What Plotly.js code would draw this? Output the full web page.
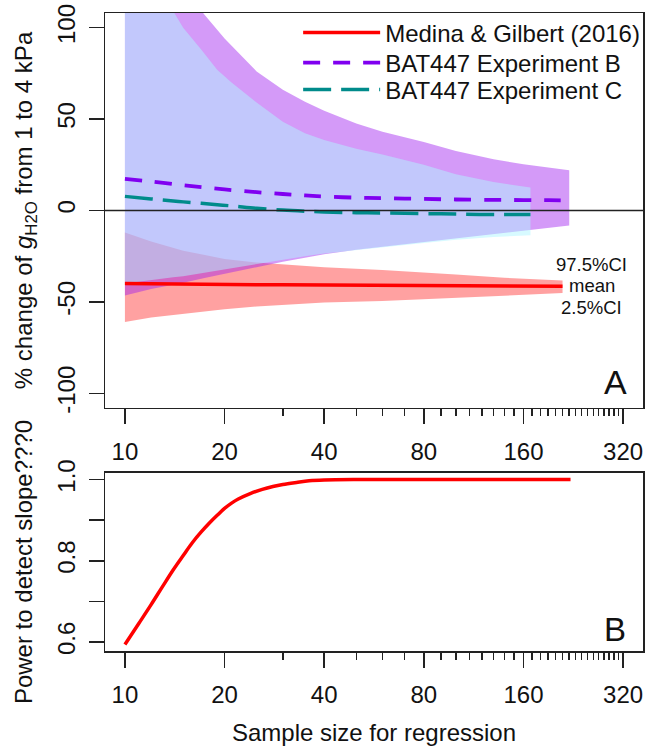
<!DOCTYPE html>
<html>
<head>
<meta charset="utf-8">
<script src="https://cdn.plot.ly/plotly-3.0.1.min.js"></script>
<style>html,body{margin:0;padding:0;background:#fff;}</style>
</head>
<body>
<div id="chart" style="width:651px;height:747px;"></div>
<script>
// ---- Data ----
// Medina & Gilbert (2016)
const medinaN     = [10, 12, 15, 20, 25, 30, 40, 60, 80, 100, 140, 180, 210];
const medinaMean  = [-40, -40.2, -40.3, -40.5, -40.6, -40.7, -40.8, -41, -41.1, -41.2, -41.3, -41.4, -41.4];
const medinaUpper = [-12, -17, -22, -26.5, -28.5, -29.5, -31, -32.5, -33.8, -35, -36.8, -37.8, -38.3];
const medinaLower = [-61, -58.5, -56.3, -54, -52.5, -51.5, -50.3, -49.5, -48.5, -47.5, -46.4, -45.7, -45.2];

// BAT447 Experiment B
const expBN     = [10, 12, 15, 17.4, 20, 25, 30, 35, 40, 50, 60, 80, 100, 130, 160, 190, 220];
const expBMean  = [17.3, 15.8, 13.8, 12.6, 11.5, 10, 9, 8.2, 7.6, 7, 6.7, 6.3, 6, 5.8, 5.7, 5.6, 5.5];
const expBUpper = [175, 150, 122, 107, 94, 76, 66, 59.5, 54.5, 47.5, 43, 37.5, 32.5, 28, 25.3, 23.5, 22];
const expBLower = [-46.5, -43, -39.5, -37, -34.5, -31, -28, -25.8, -24, -21.5, -19.5, -17, -15, -12.8, -11, -9.5, -8.2];

// BAT447 Experiment C
const expCN     = [10, 12, 14, 15, 17, 19, 21, 25, 30, 35, 40, 50, 60, 80, 100, 130, 168];
const expCMean  = [7.7, 6.3, 5.2, 4.7, 3.9, 3.1, 2.5, 1.2, 0.2, -0.4, -0.8, -1.2, -1.4, -1.7, -2, -2.2, -2.2];
const expCUpper = [150, 127, 109, 100, 88, 77, 70, 59, 48.5, 42.2, 38.5, 33.8, 30.6, 25, 19.8, 15.5, 12.6];
const expCLower = [-40, -38, -36.5, -36, -34.5, -33, -32, -29.5, -27, -25, -23.5, -21.5, -20, -17.8, -16, -14.5, -13.5];

// Power to detect slope (panel B)
const powerN   = [10, 11, 12, 13, 14, 15, 16, 17, 18, 19, 20, 21, 22, 24, 26, 28, 30, 33, 36, 40, 50, 60, 80, 120, 160, 222];
const powerVal = [0.594, 0.645, 0.692, 0.737, 0.778, 0.813, 0.845, 0.871, 0.893, 0.912, 0.929, 0.942, 0.952, 0.966, 0.976, 0.983, 0.988, 0.993, 0.997, 0.999, 1.0, 1.0, 1.0, 1.0, 1.0, 1.0];

// Axis ticks
const xMajorTicks = [10, 20, 40, 80, 160, 320];
const xMajorLabels = ['10', '20', '40', '80', '160', '320'];
const xMinorTicks = [30, 50, 60, 70, 90, 100, 110, 120, 130, 140, 150, 170, 180, 190, 200, 210, 220, 230, 240, 250, 260, 270, 280, 290, 300, 310];
const yATicks = [-100, -50, 0, 50, 100];
const yALabels = ['-100', '-50', '0', '50', '100'];
const yBTicks = [0.6, 0.8, 1.0];
const yBLabels = ['0.6', '0.8', '1.0'];
const yBUnlabelledTicks = [0.7, 0.9];

const legendNames = ['Medina & Gilbert (2016)', 'BAT447 Experiment B', 'BAT447 Experiment C'];
const ciLabels = ['97.5%CI', 'mean', '2.5%CI'];

// ---- Helpers ----
function band(n, up, lo) {
  return { x: n.concat(n.slice().reverse()), y: up.concat(lo.slice().reverse()) };
}
const FONT = 'Liberation Sans, Arial, sans-serif';
const TXT = '#111';

const bM = band(medinaN, medinaUpper, medinaLower);
const bB = band(expBN, expBUpper, expBLower);
const bC = band(expCN, expCUpper, expCLower);

const traces = [
  { x: bM.x, y: bM.y, type: 'scatter', mode: 'lines', fill: 'toself',
    fillcolor: 'rgba(255,0,0,0.37)', line: { width: 0 }, showlegend: false, hoverinfo: 'skip', xaxis: 'x', yaxis: 'y' },
  { x: bB.x, y: bB.y, type: 'scatter', mode: 'lines', fill: 'toself',
    fillcolor: 'rgba(160,32,240,0.45)', line: { width: 0 }, showlegend: false, hoverinfo: 'skip', xaxis: 'x', yaxis: 'y' },
  { x: bC.x, y: bC.y, type: 'scatter', mode: 'lines', fill: 'toself',
    fillcolor: 'rgba(176,245,255,0.5)', line: { width: 0 }, showlegend: false, hoverinfo: 'skip', xaxis: 'x', yaxis: 'y' },
  { x: medinaN, y: medinaMean, type: 'scatter', mode: 'lines', name: legendNames[0], legend: 'legend',
    line: { color: '#FF0000', width: 3.5 }, xaxis: 'x', yaxis: 'y' },
  { x: expBN, y: expBMean, type: 'scatter', mode: 'lines', name: legendNames[1], legend: 'legend2',
    line: { color: '#8000F0', width: 3.8, dash: '17px,13px', shape: 'spline' }, xaxis: 'x', yaxis: 'y' },
  { x: expCN, y: expCMean, type: 'scatter', mode: 'lines', name: legendNames[2], legend: 'legend3',
    line: { color: '#008B8B', width: 3.5, dash: '28px,10px', shape: 'spline' }, xaxis: 'x', yaxis: 'y' },
  { x: powerN, y: powerVal, type: 'scatter', mode: 'lines', showlegend: false,
    line: { color: '#FF0000', width: 3.5, shape: 'spline' }, xaxis: 'x2', yaxis: 'y2' }
];

const xRange = [0.9398, 2.5653];
const axisCommon = {
  showline: true, mirror: true, linecolor: '#222', linewidth: 1.5,
  ticks: 'outside', ticklen: 15, tickwidth: 1.5, tickcolor: '#222',
  showgrid: false, zeroline: false, automargin: false,
  tickfont: { family: FONT, size: 24, color: TXT }
};
function xAxis(anchor) {
  return Object.assign({}, axisCommon, {
    type: 'log', range: xRange, anchor: anchor,
    tickmode: 'array', tickvals: xMajorTicks, ticktext: xMajorLabels,
    minor: { tickmode: 'array', tickvals: xMinorTicks, ticks: 'outside', ticklen: 7, tickwidth: 1.5, tickcolor: '#222', showgrid: false },
    ticklabelstandoff: 7
  });
}
function legendAt(yCenter) {
  return {
    x: 0.359, xanchor: 'left', y: yCenter, yanchor: 'middle', yref: 'paper',
    bgcolor: 'rgba(0,0,0,0)', borderwidth: 0,
    font: { family: FONT, size: 24, color: TXT },
    itemwidth: 77
  };
}

const layout = {
  width: 651, height: 747,
  margin: { l: 105, r: 6, t: 13, b: 96 },
  paper_bgcolor: '#fff', plot_bgcolor: '#fff',
  font: { family: FONT, color: TXT },
  showlegend: true,
  legend: legendAt(0.9687),
  legend2: legendAt(0.9216),
  legend3: legendAt(0.8793),
  xaxis: xAxis('y'),
  xaxis2: Object.assign(xAxis('y2'), {
    title: { text: 'Sample size for regression', font: { family: FONT, size: 24, color: TXT }, standoff: 17 }
  }),
  yaxis: Object.assign({}, axisCommon, {
    domain: [0.381, 1], range: [-108, 108], anchor: 'x',
    tickmode: 'array', tickvals: yATicks, ticktext: yALabels, tickangle: -90,
    ticklabelstandoff: 4,
    title: { text: '% change of <i>g</i><sub>H2O</sub> from 1 to 4 kPa', font: { family: FONT, size: 24, color: TXT }, standoff: 13 }
  }),
  yaxis2: Object.assign({}, axisCommon, {
    domain: [0, 0.279], range: [0.5778, 1.0162], anchor: 'x2',
    tickmode: 'array', tickvals: yBTicks, ticktext: yBLabels, tickangle: -90,
    minor: { tickmode: 'array', tickvals: yBUnlabelledTicks, ticks: 'outside', ticklen: 15, tickwidth: 1.5, tickcolor: '#222', showgrid: false },
    ticklabelstandoff: 4,
    title: { text: 'Power to detect slope???0', font: { family: FONT, size: 24, color: TXT }, standoff: 13 }
  }),
  shapes: [
    { type: 'line', xref: 'x domain', x0: 0, x1: 1, yref: 'y', y0: 0, y1: 0,
      line: { color: '#222', width: 1.5 }, layer: 'above' }
  ],
  annotations: [
    { text: ciLabels[0], x: Math.log10(257), y: -29.3, xref: 'x', yref: 'y', showarrow: false,
      font: { family: FONT, size: 18.5, color: TXT } },
    { text: ciLabels[1], x: Math.log10(257), y: -41.3, xref: 'x', yref: 'y', showarrow: false,
      font: { family: FONT, size: 18.5, color: TXT } },
    { text: ciLabels[2], x: Math.log10(257), y: -53.3, xref: 'x', yref: 'y', showarrow: false,
      font: { family: FONT, size: 18.5, color: TXT } },
    { text: 'A', xref: 'x domain', yref: 'y domain', x: 1, y: 0, xanchor: 'right', yanchor: 'bottom',
      xshift: -14, yshift: 5, showarrow: false, font: { family: FONT, size: 34, color: TXT } },
    { text: 'B', xref: 'x2 domain', yref: 'y2 domain', x: 1, y: 0, xanchor: 'right', yanchor: 'bottom',
      xshift: -15, yshift: 1, showarrow: false, font: { family: FONT, size: 33, color: TXT } }
  ]
};

Plotly.newPlot('chart', traces, layout, { staticPlot: true, displayModeBar: false });
</script>
</body>
</html>
